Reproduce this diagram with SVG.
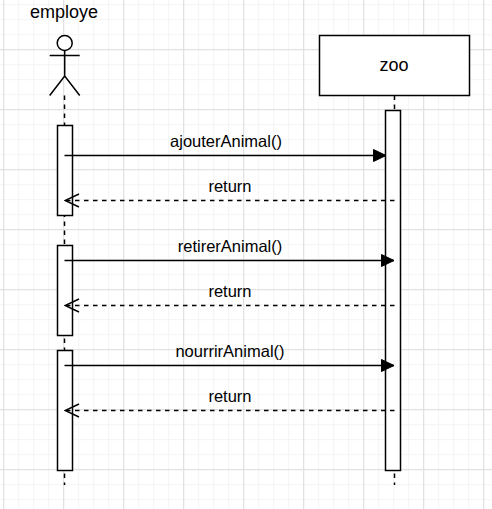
<svg xmlns="http://www.w3.org/2000/svg" width="492" height="509" viewBox="0 0 492 509">
  <style>
    .shape { fill: #ffffff; stroke: #000000; stroke-width: 1.5; }
    .line { fill: none; stroke: #000000; stroke-width: 1.5; }
    .dash { fill: none; stroke: #000000; stroke-width: 1.5; stroke-dasharray: 4.5 4.5; }
    text { font-family: "Liberation Sans", Arial, sans-serif; fill: #000000; text-anchor: middle; }
    .big { font-size: 18px; }
    .lab { font-size: 16.5px; }
  </style>
  <defs>
    <pattern id="minor" width="15" height="15" patternUnits="userSpaceOnUse" x="3" y="4">
      <path d="M0.5 0V15M0 0.5H15" fill="none" stroke="#f6f6f6" stroke-width="1.5"/>
    </pattern>
    <pattern id="major" width="60" height="60" patternUnits="userSpaceOnUse" x="3" y="49">
      <path d="M0.5 0V60M0 0.5H60" fill="none" stroke="#e2e2e2" stroke-width="1.5"/>
    </pattern>
    <marker id="solid" markerUnits="userSpaceOnUse" markerWidth="15" markerHeight="14" refX="13" refY="7" orient="auto">
      <path d="M0.5 1L13 7L0.5 13Z" fill="#000000" stroke="#000000" stroke-width="1"/>
    </marker>
    <marker id="open" markerUnits="userSpaceOnUse" markerWidth="16" markerHeight="16" refX="15" refY="8" orient="auto">
      <path d="M1 1.5L15 8L1 14.5" fill="none" stroke="#000000" stroke-width="1.5"/>
    </marker>
  </defs>
  <rect width="492" height="509" fill="#ffffff"/>
  <rect width="492" height="509" fill="url(#minor)"/>
  <rect width="492" height="509" fill="url(#major)"/>

  <g id="lifelines">
    <path class="dash" d="M64.5 95.5V485"/>
    <path class="dash" d="M394.5 95.5V485"/>
  </g>

  <g id="node-employe">
    <circle class="shape" cx="64.7" cy="43" r="7.5"/>
    <path class="line" d="M64.7 50.5V76M49.7 55.5H79.7M49.7 95.5L64.7 76L79.7 95.5"/>
    <text class="big" x="64" y="18">employe</text>
  </g>
  <g id="node-zoo">
    <rect class="shape" x="319.5" y="35.5" width="150" height="60"/>
    <text class="big" x="394" y="71">zoo</text>
  </g>
  <g id="node-activation-zoo">
    <rect class="shape" x="385.5" y="110.5" width="15" height="360"/>
  </g>
  <g id="node-activation-employe-1">
    <rect class="shape" x="57.5" y="125.5" width="15" height="90"/>
  </g>
  <g id="node-activation-employe-2">
    <rect class="shape" x="57.5" y="245.5" width="15" height="90"/>
  </g>
  <g id="node-activation-employe-3">
    <rect class="shape" x="57.5" y="350.5" width="15" height="120"/>
  </g>

  <g id="connectors">
    <path class="line" d="M64.5 155.5H386" marker-end="url(#solid)"/>
    <path class="dash" d="M394.5 200.5H65" marker-end="url(#open)"/>
    <path class="line" d="M64.5 260.5H394" marker-end="url(#solid)"/>
    <path class="dash" d="M394.5 305.5H65" marker-end="url(#open)"/>
    <path class="line" d="M64.5 365.5H394" marker-end="url(#solid)"/>
    <path class="dash" d="M394.5 410.5H65" marker-end="url(#open)"/>
    <text class="lab" x="226" y="147">ajouterAnimal()</text>
    <text class="lab" x="230" y="192">return</text>
    <text class="lab" x="230" y="252">retirerAnimal()</text>
    <text class="lab" x="230" y="297">return</text>
    <text class="lab" x="230" y="357">nourrirAnimal()</text>
    <text class="lab" x="230" y="402">return</text>
  </g>
</svg>
